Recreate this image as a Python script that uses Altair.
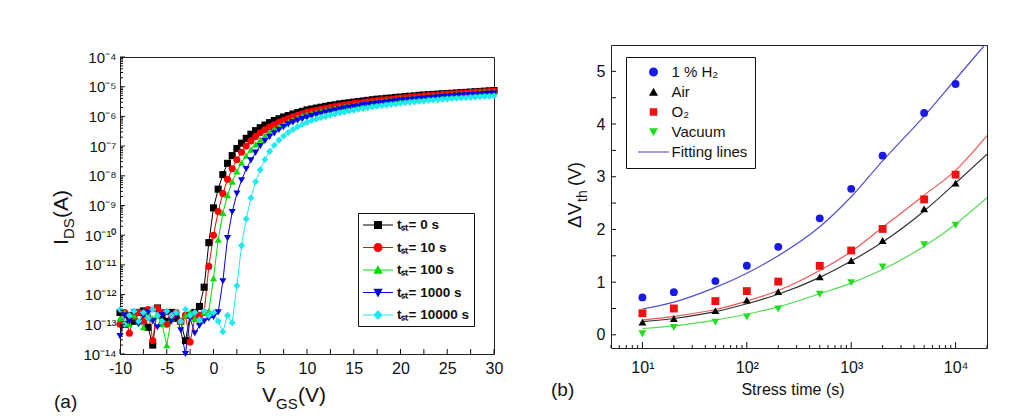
import json
import altair as alt
import pandas as pd

FONT = "Liberation Sans"
INK = "#111111"

# ---------------- panel (a): transfer curves, log10(I_DS) ----------------
VGS = [round(-10 + 0.5 * i, 1) for i in range(81)]
SERIES_A = ["tₛₜ= 0 s", "tₛₜ= 10 s", "tₛₜ= 100 s", "tₛₜ= 1000 s", "tₛₜ= 10000 s"]

LOG_IDS_0 = [-12.6, -13.0, -12.7, -12.9, -12.6, -12.55, -13.1, -13.7, -12.45, -12.7,
             -12.9, -12.6, -12.8, -12.9, -13.55, -12.7, -12.6, -12.4,
             -11.75, -10.25, -9.08, -8.45, -7.96, -7.58, -7.32, -7.08, -6.9, -6.74,
             -6.6, -6.48, -6.38, -6.29, -6.21, -6.14, -6.08, -6.02, -5.97, -5.92, -5.87, -5.83,
             -5.78, -5.75, -5.72, -5.69, -5.66, -5.63, -5.61, -5.58, -5.56, -5.54,
             -5.52, -5.50, -5.48, -5.46, -5.44, -5.42, -5.41, -5.39, -5.38, -5.36,
             -5.35, -5.33, -5.32, -5.31, -5.29, -5.28, -5.27, -5.26, -5.25, -5.24,
             -5.23, -5.22, -5.21, -5.20, -5.19, -5.18, -5.17, -5.16, -5.15, -5.14,
             -5.13]
LOG_IDS_10 = [-13.0, -12.6, -13.3, -12.75, -12.6, -12.9, -12.5, -13.55, -12.45, -12.6,
              -13.0, -12.75, -12.6, -12.9, -12.7, -13.6, -12.8, -12.7,
              -12.6, -11.05, -10.0, -9.2, -8.6, -8.12, -7.76, -7.46, -7.21, -7.0,
              -6.83, -6.68, -6.55, -6.45, -6.36, -6.28, -6.2, -6.13, -6.07, -6.01, -5.96, -5.91,
              -5.86, -5.83, -5.79, -5.76, -5.73, -5.70, -5.67, -5.64, -5.62, -5.60,
              -5.57, -5.55, -5.53, -5.51, -5.49, -5.47, -5.45, -5.43, -5.42, -5.40,
              -5.38, -5.37, -5.35, -5.34, -5.33, -5.31, -5.30, -5.29, -5.28, -5.26,
              -5.25, -5.24, -5.23, -5.22, -5.21, -5.20, -5.19, -5.18, -5.17, -5.16,
              -5.15]
LOG_IDS_100 = [-12.8, -12.6, -13.0, -12.7, -12.9, -13.1, -12.6, -12.8, -12.7, -13.0,
               -13.7, -12.8, -12.6, -12.9, -12.7, -12.6, -12.8, -12.9, -12.6,
               -12.55, -11.45, -10.15, -9.25, -8.65, -8.2, -7.85, -7.56, -7.32, -7.12,
               -6.94, -6.78, -6.65, -6.53, -6.43, -6.34, -6.26, -6.18, -6.11, -6.04, -5.98,
               -5.93, -5.89, -5.86, -5.82, -5.79, -5.76, -5.73, -5.70, -5.67, -5.65,
               -5.62, -5.60, -5.58, -5.55, -5.53, -5.51, -5.49, -5.47, -5.46, -5.44,
               -5.42, -5.41, -5.39, -5.38, -5.36, -5.35, -5.33, -5.32, -5.31, -5.29,
               -5.28, -5.27, -5.26, -5.25, -5.24, -5.23, -5.21, -5.20, -5.19, -5.18,
               -5.17]
LOG_IDS_1000 = [-13.4, -12.7, -12.9, -12.6, -13.0, -12.7, -12.6, -12.9, -13.1, -12.7,
                -12.6, -12.9, -12.7, -13.2, -14.0, -12.8, -13.3, -13.05, -12.9, -12.8, -12.75,
                -12.6, -11.55, -10.1, -9.22, -8.6, -8.15, -7.77, -7.48, -7.22, -7.0,
                -6.83, -6.69, -6.57, -6.46, -6.36, -6.27, -6.2, -6.14, -6.09,
                -6.04, -5.99, -5.95, -5.91, -5.87, -5.84, -5.80, -5.77, -5.74, -5.71,
                -5.68, -5.66, -5.63, -5.61, -5.59, -5.57, -5.55, -5.53, -5.51, -5.49,
                -5.47, -5.46, -5.44, -5.43, -5.41, -5.40, -5.38, -5.37, -5.36, -5.34,
                -5.33, -5.32, -5.31, -5.30, -5.29, -5.28, -5.27, -5.26, -5.25, -5.24,
                -5.23]
LOG_IDS_10000 = [-12.5, -13.0, -12.7, -12.55, -12.9, -12.6, -12.8, -12.5, -12.7, -12.9,
                 -12.55, -12.7, -12.6, -12.9, -12.5, -12.7, -12.6, -12.85, -12.55, -12.7,
                 -12.6, -12.9, -13.25, -12.7, -12.95,
                 -11.7, -10.35, -9.45, -8.75, -8.2, -7.8, -7.45, -7.18, -6.97, -6.8,
                 -6.66, -6.54, -6.44, -6.35, -6.27,
                 -6.20, -6.14, -6.09, -6.04, -6.00, -5.96, -5.92, -5.88, -5.85, -5.82,
                 -5.79, -5.76, -5.73, -5.71, -5.68, -5.66, -5.64, -5.62, -5.60, -5.58,
                 -5.56, -5.54, -5.52, -5.51, -5.49, -5.48, -5.46, -5.45, -5.44, -5.42,
                 -5.41, -5.40, -5.39, -5.38, -5.37, -5.36, -5.35, -5.34, -5.33, -5.32,
                 -5.31]

X_TICKS_A = [-10, -5, 0, 5, 10, 15, 20, 25, 30]
X_MINOR_A = [-7.5, -2.5, 2.5, 7.5, 12.5, 17.5, 22.5, 27.5]
Y_EXP_A = [-14, -13, -12, -11, -10, -9, -8, -7, -6, -5, -4]
Y_LABELS_A = ["10⁻¹⁴", "10⁻¹³", "10⁻¹²", "10⁻¹¹", "10⁻¹⁰", "10⁻⁹", "10⁻⁸",
              "10⁻⁷", "10⁻⁶", "10⁻⁵", "10⁻⁴"]
MINOR_MULT = [2, 3, 4, 5, 6, 7, 8, 9]

# ---------------- panel (b): threshold shift vs stress time ----------------
STRESS_T = [10, 20, 50, 100, 200, 500, 1000, 2000, 5000, 10000]
GASES = ["1 % H₂", "Air", "O₂", "Vacuum"]
DV_H2 = [0.71, 0.81, 1.02, 1.31, 1.67, 2.21, 2.77, 3.40, 4.21, 4.76]
DV_AIR = [0.24, 0.31, 0.46, 0.66, 0.82, 1.10, 1.41, 1.79, 2.39, 2.88]
DV_O2 = [0.41, 0.50, 0.64, 0.83, 1.01, 1.31, 1.60, 2.01, 2.57, 3.04]
DV_VAC = [0.02, 0.14, 0.24, 0.34, 0.49, 0.77, 0.99, 1.29, 1.71, 2.08]

FIT_T = [10, 20, 50, 100, 200, 500, 1000, 2000, 5000, 10000, 20000]
FIT_H2 = [0.49, 0.62, 0.90, 1.17, 1.50, 2.05, 2.62, 3.30, 4.15, 4.85, 5.55]
FIT_AIR = [0.25, 0.31, 0.44, 0.59, 0.77, 1.09, 1.40, 1.76, 2.35, 2.88, 3.43]
FIT_O2 = [0.28, 0.35, 0.48, 0.64, 0.84, 1.22, 1.58, 2.04, 2.65, 3.12, 3.78]
FIT_VAC = [0.12, 0.17, 0.28, 0.39, 0.53, 0.78, 0.98, 1.24, 1.68, 2.10, 2.60]

X_TICKS_B = [10, 100, 1000, 10000]
X_LABELS_B = ["10¹", "10²", "10³", "10⁴"]
X_MINOR_B = [5, 6, 7, 8, 9, 20, 30, 40, 50, 60, 70, 80, 90, 200, 300, 400, 500, 600, 700,
             800, 900, 2000, 3000, 4000, 5000, 6000, 7000, 8000, 9000, 20000]
Y_TICKS_B = [0, 1, 2, 3, 4, 5]
Y_MINOR_B = [0.5, 1.5, 2.5, 3.5, 4.5]
LEGEND_B = GASES + ["Fitting lines"]

# ---------------- styles ----------------
COLORS_A = ["#000000", "#ff0000", "#00dd00", "#0000ee", "#22e8f0"]
SHAPES_A = ["square", "circle", "triangle-up", "triangle-down", "diamond"]
LINE_A = "M-2,-0.067H2V0.067H-2Z"
LEGEND_PATHS_A = [
    LINE_A + "M-0.53,-0.53H0.53V0.53H-0.53Z",
    LINE_A + "M0.6,0A0.6,0.6,0,1,1,-0.6,0A0.6,0.6,0,1,1,0.6,0Z",
    LINE_A + "M0,-0.65L0.62,0.5L-0.62,0.5Z",
    LINE_A + "M0,0.65L-0.62,-0.5L0.62,-0.5Z",
    LINE_A + "M0,-0.68L0.62,0L0,0.68L-0.62,0Z",
]
POINT_COLORS_B = ["#1a1ae6", "#000000", "#ee1111", "#22dd22"]
FIT_COLORS_B = ["#5050cc", "#333333", "#ee5555", "#50dd50"]
SHAPES_B = ["circle", "triangle-up", "square", "triangle-down"]
LEGEND_PATHS_B = [
    "M0.9,0A0.9,0.9,0,1,1,-0.9,0A0.9,0.9,0,1,1,0.9,0Z",
    "M0,-0.85L0.9,0.75L-0.9,0.75Z",
    "M-0.75,-0.75H0.75V0.75H-0.75Z",
    "M0,0.85L-0.9,-0.75L0.9,-0.75Z",
    "M-3.1,-0.1H3.1V0.1H-3.1Z",
]

W1, H1 = 374, 297
W2, H2 = 376, 303


def text_layer(s, x, y, size, angle=0, align="left", weight="normal"):
    return alt.Chart(pd.DataFrame({"s": [s]})).mark_text(
        align=align, baseline="alphabetic", font=FONT, fontSize=size, fontWeight=weight,
        angle=angle, color=INK,
    ).encode(x=alt.value(x), y=alt.value(y), text="s:N")


# ---------------- build panel (a) ----------------
rows = []
for name, vals in zip(SERIES_A, [LOG_IDS_0, LOG_IDS_10, LOG_IDS_100, LOG_IDS_1000, LOG_IDS_10000]):
    assert len(vals) == len(VGS), (name, len(vals))
    for v, e in zip(VGS, vals):
        rows.append({"vgs": v, "ids": 10.0 ** e, "series": name})
df_a = pd.DataFrame(rows)

xa = alt.Scale(domain=[-10, 30], nice=False, zero=False)
ya = alt.Scale(type="log", domain=[1e-14, 1e-4], nice=False)

axis_xa = alt.Axis(values=X_TICKS_A, title=None, ticks=False, domain=False, grid=False,
                   labelFont=FONT, labelFontSize=16, labelColor=INK, labelPadding=6,
                   labelFlush=False, labelExpr="'' + datum.value")
y_label_expr = json.dumps(Y_LABELS_A, ensure_ascii=False) + "[round(log(datum.value)/LN10)+14]"
axis_ya = alt.Axis(values=[10.0 ** e for e in Y_EXP_A], title=None, ticks=False, domain=False,
                   grid=False, labelFont=FONT, labelFontSize=15, labelColor=INK, labelPadding=4,
                   labelFlush=False, labelExpr=y_label_expr)

color_a = alt.Color("series:N", scale=alt.Scale(domain=SERIES_A, range=COLORS_A), legend=None)
lines_a = alt.Chart(df_a).mark_line(strokeWidth=1, clip=True).encode(
    x=alt.X("vgs:Q", scale=xa, axis=axis_xa),
    y=alt.Y("ids:Q", scale=ya, axis=axis_ya),
    color=color_a,
)
points_a = alt.Chart(df_a).mark_point(filled=True, size=50, opacity=1).encode(
    x=alt.X("vgs:Q", scale=xa, axis=axis_xa),
    y=alt.Y("ids:Q", scale=ya, axis=axis_ya),
    color=color_a,
    shape=alt.Shape("series:N", scale=alt.Scale(domain=SERIES_A, range=SHAPES_A), legend=None),
)

xt_a = alt.Chart(pd.DataFrame({"xt": X_TICKS_A + X_MINOR_A})).mark_rule(color=INK, strokeWidth=1).encode(
    x=alt.X("xt:Q", scale=xa, axis=axis_xa), y=alt.value(H1), y2=alt.value(H1 - 5))
yt_a = alt.Chart(pd.DataFrame({"yt": [10.0 ** e for e in Y_EXP_A]})).mark_rule(color=INK, strokeWidth=1).encode(
    y=alt.Y("yt:Q", scale=ya, axis=axis_ya), x=alt.value(0), x2=alt.value(5))
yminor_a = alt.Chart(pd.DataFrame({"ym": [m * 10.0 ** e for e in Y_EXP_A[:-1] for m in MINOR_MULT]})).mark_rule(
    color=INK, strokeWidth=1).encode(y=alt.Y("ym:Q", scale=ya, axis=axis_ya), x=alt.value(0), x2=alt.value(3))

leg_a = alt.Legend(title=None, orient="none", legendX=238, legendY=156, padding=4.5,
                   strokeColor=INK, fillColor="white", labelFont=FONT, labelFontSize=13.5,
                   labelFontWeight="bold", labelColor=INK, symbolSize=225, symbolStrokeWidth=0,
                   rowPadding=8.5, symbolOffset=8, labelOffset=11.5, labelLimit=300)
legend_a = alt.Chart(pd.DataFrame({"key": SERIES_A})).transform_filter("false").mark_point(
    filled=True, opacity=1).encode(
    color=alt.Color("key:N", scale=alt.Scale(domain=SERIES_A, range=COLORS_A), legend=leg_a),
    shape=alt.Shape("key:N", scale=alt.Scale(domain=SERIES_A, range=LEGEND_PATHS_A), legend=leg_a),
)

panel_a = alt.layer(
    lines_a, points_a, xt_a, yt_a, yminor_a, legend_a,
    text_layer("I", -52, 188, 21, angle=270),
    text_layer("DS", -46, 182, 15, angle=270),
    text_layer("(A)", -52, 161, 21, angle=270),
    text_layer("V", 142, 345, 21),
    text_layer("GS", 156, 352, 15),
    text_layer("(V)", 178, 345, 21),
    text_layer("(a)", -66, 351, 19),
).resolve_scale(color="independent", shape="independent").properties(width=W1, height=H1)

# thin empty strip above panel (a): its plot frame sits lower than panel (b)'s
spacer = alt.Chart(pd.DataFrame({"s": [0]})).mark_rule(opacity=0).encode(
    x=alt.value(0), x2=alt.value(1), y=alt.value(0)
).properties(width=W1, height=1, view=alt.ViewBackground(stroke="transparent"))
left_cell = alt.vconcat(spacer, panel_a, spacing=2)

# ---------------- build panel (b) ----------------
pts = []
for g, vals in zip(GASES, [DV_H2, DV_AIR, DV_O2, DV_VAC]):
    for t, v in zip(STRESS_T, vals):
        pts.append({"t": t, "dv": v, "gas": g})
df_b = pd.DataFrame(pts)
fits = []
for g, vals in zip(GASES, [FIT_H2, FIT_AIR, FIT_O2, FIT_VAC]):
    for t, v in zip(FIT_T, vals):
        fits.append({"tf": t, "dvf": v, "fit": g})
df_fit = pd.DataFrame(fits)

xb = alt.Scale(type="log", domain=[5, 20000], nice=False)
yb = alt.Scale(domain=[-0.25, 5.5], nice=False, zero=False)
x_label_expr = json.dumps(X_LABELS_B, ensure_ascii=False) + "[round(log(datum.value)/LN10)-1]"
axis_xb = alt.Axis(values=X_TICKS_B, title=None, ticks=False, domain=False, grid=False,
                   labelFont=FONT, labelFontSize=16, labelColor=INK, labelPadding=11.5,
                   labelFlush=False, labelExpr=x_label_expr)
axis_yb = alt.Axis(values=Y_TICKS_B, title=None, ticks=False, domain=False, grid=False,
                   labelFont=FONT, labelFontSize=16, labelColor=INK, labelPadding=6,
                   labelFlush=False)

fit_lines = alt.Chart(df_fit).mark_line(strokeWidth=1.2, clip=True, interpolate="monotone").encode(
    x=alt.X("tf:Q", scale=xb, axis=axis_xb),
    y=alt.Y("dvf:Q", scale=yb, axis=axis_yb),
    color=alt.Color("fit:N", scale=alt.Scale(domain=GASES, range=FIT_COLORS_B), legend=None),
)
points_b = alt.Chart(df_b).mark_point(filled=True, size=62, opacity=1).encode(
    x=alt.X("t:Q", scale=xb, axis=axis_xb),
    y=alt.Y("dv:Q", scale=yb, axis=axis_yb),
    color=alt.Color("gas:N", scale=alt.Scale(domain=GASES, range=POINT_COLORS_B), legend=None),
    shape=alt.Shape("gas:N", scale=alt.Scale(domain=GASES, range=SHAPES_B), legend=None),
)
xt_b = alt.Chart(pd.DataFrame({"xt": X_TICKS_B})).mark_rule(color=INK, strokeWidth=1).encode(
    x=alt.X("xt:Q", scale=xb, axis=axis_xb), y=alt.value(H2), y2=alt.value(H2 - 6))
xm_b = alt.Chart(pd.DataFrame({"xm": X_MINOR_B})).mark_rule(color=INK, strokeWidth=1).encode(
    x=alt.X("xm:Q", scale=xb, axis=axis_xb), y=alt.value(H2), y2=alt.value(H2 - 3))
yt_b = alt.Chart(pd.DataFrame({"yt": Y_TICKS_B + Y_MINOR_B})).mark_rule(color=INK, strokeWidth=1).encode(
    y=alt.Y("yt:Q", scale=yb, axis=axis_yb), x=alt.value(0), x2=alt.value(5))

leg_b = alt.Legend(title=None, orient="none", legendX=15, legendY=12, padding=7.5,
                   strokeColor=INK, fillColor="white", labelFont=FONT, labelFontSize=15,
                   labelColor=INK, symbolSize=100, symbolStrokeWidth=0, rowPadding=4,
                   symbolOffset=12.5, labelOffset=10.5, labelLimit=300)
legend_b = alt.Chart(pd.DataFrame({"key": LEGEND_B})).transform_filter("false").mark_point(
    filled=True, opacity=1).encode(
    color=alt.Color("key:N", scale=alt.Scale(domain=LEGEND_B, range=POINT_COLORS_B + ["#4040c0"]), legend=leg_b),
    shape=alt.Shape("key:N", scale=alt.Scale(domain=LEGEND_B, range=LEGEND_PATHS_B), legend=leg_b),
)

panel_b = alt.layer(
    fit_lines, points_b, xt_b, xm_b, yt_b, legend_b,
    text_layer("ΔV", -30, 183, 19, angle=270),
    text_layer("th", -24, 157, 14, angle=270),
    text_layer("(V)", -30, 141, 18, angle=270),
    text_layer("Stress time (s)", 182, 350, 16, align="center"),
    text_layer("(b)", -60, 351, 19),
).resolve_scale(color="independent", shape="independent").properties(width=W2, height=H2)

chart = alt.hconcat(left_cell, panel_b, spacing=46).resolve_scale(
    color="independent", shape="independent"
).properties(
    padding={"left": 42, "top": 36, "right": 5, "bottom": 0}, background="white"
).configure_view(stroke="#222222", strokeWidth=1)

chart.save("out.html", embed_options={"renderer": "svg", "actions": False})
